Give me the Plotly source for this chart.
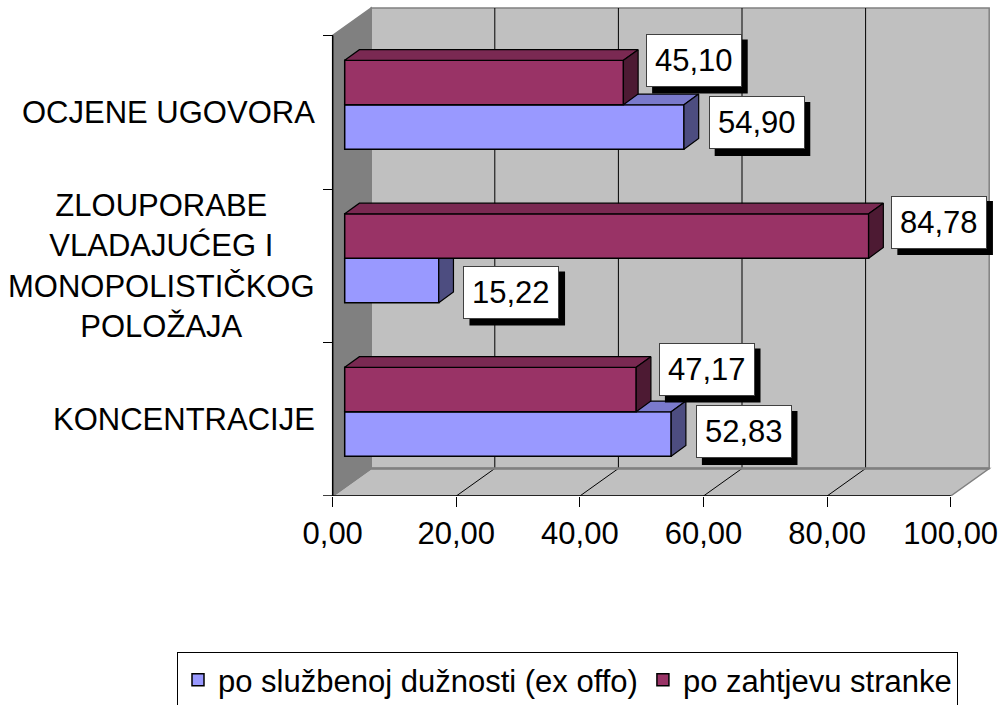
import plotly.graph_objects as go

# ---------------- data ----------------
categories = ["KONCENTRACIJE",
              "ZLOUPORABE<br>VLADAJUĆEG I<br>MONOPOLISTIČKOG<br>POLOŽAJA",
              "OCJENE UGOVORA"]
series_names = ["po službenoj dužnosti (ex offo)", "po zahtjevu stranke"]
ex_offo = [52.83, 15.22, 54.90]
zahtjev = [47.17, 84.78, 45.10]
x_ticks = [0, 20, 40, 60, 80, 100]

# ---------------- layout geometry (pixels) ----------------
W, H = 1005, 705
L, R, T, B = 323, 1003, 5, 496
x0px = 332.7          # front-plane 0
kx = 6.18             # px per value unit
ky = 153.5            # px per category
wall_dx, wall_dy = 38.5, 27.5      # depth of the 3D box
bar_dx, bar_dy = 12.0, 7.5         # bar front plane offset
dep_dx, dep_dy = 14.7, 10.7        # bar depth
bw = 44.4 / ky                     # bar thickness (category units)
FS = 31                            # font size
box_w, box_h = 95.6, 54.0          # value-box size (px)
shadow = 6

FONT = "Liberation Sans, Arial, sans-serif"
BLUE, BLUE_TOP, BLUE_SIDE = "#9999FF", "#7A7ACC", "#4D4D80"
RED, RED_TOP, RED_SIDE = "#993366", "#7A2952", "#4D1A33"

xr = [(L - x0px) / kx, (R - x0px) / kx]
yr = [-0.5, -0.5 + (B - T) / ky]
bx, by = bar_dx / kx, bar_dy / ky
x2r = [xr[0] - bx, xr[1] - bx]
y2r = [yr[0] - by, yr[1] - by]
wdx, wdy = wall_dx / kx, wall_dy / ky
ddx, ddy = dep_dx / kx, dep_dy / ky

n = len(categories)
idx = list(range(n))
ylo, yhi = -0.5, n - 0.5
xmax = x_ticks[-1]

fig = go.Figure()


def faces(vals, base):
    """top and side faces of bars whose front face spans [i+base, i+base+bw]"""
    tx, ty, sx, sy = [], [], [], []
    for i, v in zip(idx, vals):
        y0 = i + base
        y1 = y0 + bw
        tx += [0, v, v + ddx, ddx, 0, None]
        ty += [y1, y1, y1 + ddy, y1 + ddy, y1, None]
        sx += [v, v, v + ddx, v + ddx, v, None]
        sy += [y0, y1, y1 + ddy, y0 + ddy, y0, None]
    return tx, ty, sx, sy


# blue series (lower bar) on x2/y2
fig.add_trace(go.Bar(y=idx, x=ex_offo, orientation="h", width=bw, offset=-bw,
                     name=series_names[0], marker=dict(color=BLUE, line=dict(color="black", width=1.5)),
                     xaxis="x2", yaxis="y2", hoverinfo="skip"))
tx, ty, sx, sy = faces(ex_offo, -bw)
fig.add_trace(go.Scatter(x=tx, y=ty, fill="toself", fillcolor=BLUE_TOP, mode="lines",
                         line=dict(color="black", width=1.2), showlegend=False,
                         xaxis="x2", yaxis="y2", hoverinfo="skip"))
fig.add_trace(go.Scatter(x=sx, y=sy, fill="toself", fillcolor=BLUE_SIDE, mode="lines",
                         line=dict(color="black", width=1.2), showlegend=False,
                         xaxis="x2", yaxis="y2", hoverinfo="skip"))

# red series (upper bar) on x3/y3 (drawn above)
fig.add_trace(go.Bar(y=idx, x=zahtjev, orientation="h", width=bw, offset=0,
                     name=series_names[1], marker=dict(color=RED, line=dict(color="black", width=1.5)),
                     xaxis="x3", yaxis="y3", hoverinfo="skip"))
tx, ty, sx, sy = faces(zahtjev, 0)
fig.add_trace(go.Scatter(x=tx, y=ty, fill="toself", fillcolor=RED_TOP, mode="lines",
                         line=dict(color="black", width=1.2), showlegend=False,
                         xaxis="x3", yaxis="y3", hoverinfo="skip"))
fig.add_trace(go.Scatter(x=sx, y=sy, fill="toself", fillcolor=RED_SIDE, mode="lines",
                         line=dict(color="black", width=1.2), showlegend=False,
                         xaxis="x3", yaxis="y3", hoverinfo="skip"))

# ---------------- walls (decoration) ----------------
shapes = []
GRAY = "#808080"
LIGHT = "#C0C0C0"


def poly(pts, fill, line, lw=1.5):
    p = "M " + " L ".join(f"{a},{b}" for a, b in pts) + " Z"
    return dict(type="path", path=p, xref="x", yref="y", fillcolor=fill,
                line=dict(color=line, width=lw), layer="below")


# back wall
shapes.append(poly([(wdx, ylo + wdy), (xmax + wdx, ylo + wdy), (xmax + wdx, yhi + wdy), (wdx, yhi + wdy)], LIGHT, GRAY))
# floor
shapes.append(poly([(0, ylo), (xmax, ylo), (xmax + wdx, ylo + wdy), (wdx, ylo + wdy)], LIGHT, GRAY))
# left wall
shapes.append(poly([(0, ylo), (0, yhi), (wdx, yhi + wdy), (wdx, ylo + wdy)], GRAY, GRAY))
for t in x_ticks[1:-1]:
    shapes.append(dict(type="line", xref="x", yref="y", x0=t + wdx, x1=t + wdx, y0=ylo + wdy, y1=yhi + wdy,
                       line=dict(color="black", width=1), layer="below"))
    shapes.append(dict(type="line", xref="x", yref="y", x0=t, x1=t + wdx, y0=ylo, y1=ylo + wdy,
                       line=dict(color="black", width=1), layer="below"))
# floor back edge
shapes.append(dict(type="line", xref="x", yref="y", x0=wdx, x1=xmax + wdx, y0=ylo + wdy, y1=ylo + wdy,
                   line=dict(color=GRAY, width=2.5), layer="below"))
# axis lines
shapes.append(dict(type="line", xref="x", yref="y", x0=xr[0], x1=xmax, y0=ylo, y1=ylo,
                   line=dict(color="black", width=1.5), layer="below"))
shapes.append(dict(type="line", xref="x", yref="y", x0=0, x1=0, y0=ylo, y1=yhi,
                   line=dict(color="black", width=1.5), layer="below"))

# ---------------- annotations ----------------
ann = []
# category labels (right edge next to the axis, lines centred)
for i, c in zip(idx, categories):
    ann.append(dict(text=c, xref="paper", yref="y", x=(317 - L) / (R - L), y=i,
                    xanchor="right", yanchor="middle", align="center", showarrow=False,
                    font=dict(family=FONT, size=FS, color="black")))

# data labels (value boxes with drop shadow)
blue_nudge = [2, -12, 4]      # px up from bar centre
red_nudge = [20, 14, 22]


def fmt(v):
    return f"{v:.2f}".replace(".", ",")


def label(v, yc, nudge, gap, xref, yref):
    s = dep_dx + gap
    shapes.append(dict(type="rect", xref=xref, yref=yref, xsizemode="pixel", ysizemode="pixel",
                       xanchor=v, yanchor=yc,
                       x0=s + shadow, x1=s + shadow + box_w,
                       y0=nudge - shadow - box_h / 2, y1=nudge - shadow + box_h / 2,
                       fillcolor="black", line=dict(width=0), layer="above"))
    ann.append(dict(text=fmt(v), x=v, y=yc, xref=xref, yref=yref, xanchor="left", yanchor="middle",
                    xshift=s, yshift=nudge, showarrow=False, borderpad=8, borderwidth=1,
                    bgcolor="white", bordercolor="#404040",
                    font=dict(family=FONT, size=FS, color="black")))


for i, v, nd in zip(idx, ex_offo, blue_nudge):
    label(v, i - bw / 2, nd, 10, "x2", "y2")
for i, v, nd in zip(idx, zahtjev, red_nudge):
    label(v, i + bw / 2, nd, 8, "x3", "y3")

hidden = dict(showgrid=False, zeroline=False, showticklabels=False, ticks="", showline=False,
              fixedrange=True)

fig.update_layout(
    width=W, height=H, autosize=False,
    margin=dict(l=L, r=W - R, t=T, b=H - B, pad=0, autoexpand=False),
    paper_bgcolor="white", plot_bgcolor="rgba(0,0,0,0)",
    separators=",.",
    font=dict(family=FONT, size=FS, color="black"),
    barmode="overlay",
    showlegend=True,
    xaxis=dict(range=xr, tickvals=x_ticks, tickformat=".2f", ticks="outside", ticklen=10,
               tickcolor="black", tickwidth=1, showgrid=False, zeroline=False, showline=False,
               tickfont=dict(family=FONT, size=FS, color="black"), fixedrange=True),
    yaxis=dict(range=yr, tickvals=[-0.5 + k for k in range(n + 1)], ticks="inside", ticklen=10,
               tickcolor="black", tickwidth=1, showticklabels=False, showgrid=False,
               zeroline=False, showline=False, fixedrange=True),
    xaxis2=dict(range=x2r, overlaying="x", **hidden),
    yaxis2=dict(range=y2r, overlaying="y", **hidden),
    xaxis3=dict(range=x2r, overlaying="x", **hidden),
    yaxis3=dict(range=y2r, overlaying="y", **hidden),
    shapes=shapes,
    annotations=ann,
    legend=dict(orientation="h", x=(177 - L) / (R - L), y=(B - 652) / (B - T),
                xanchor="left", yanchor="top", bgcolor="white", bordercolor="black",
                borderwidth=1, font=dict(family=FONT, size=FS, color="black"),
                itemwidth=30, traceorder="normal"),
)

fig.write_html("out.html", post_script="document.body.style.margin='0';document.documentElement.style.overflow='hidden';",
               config={"displayModeBar": False})
